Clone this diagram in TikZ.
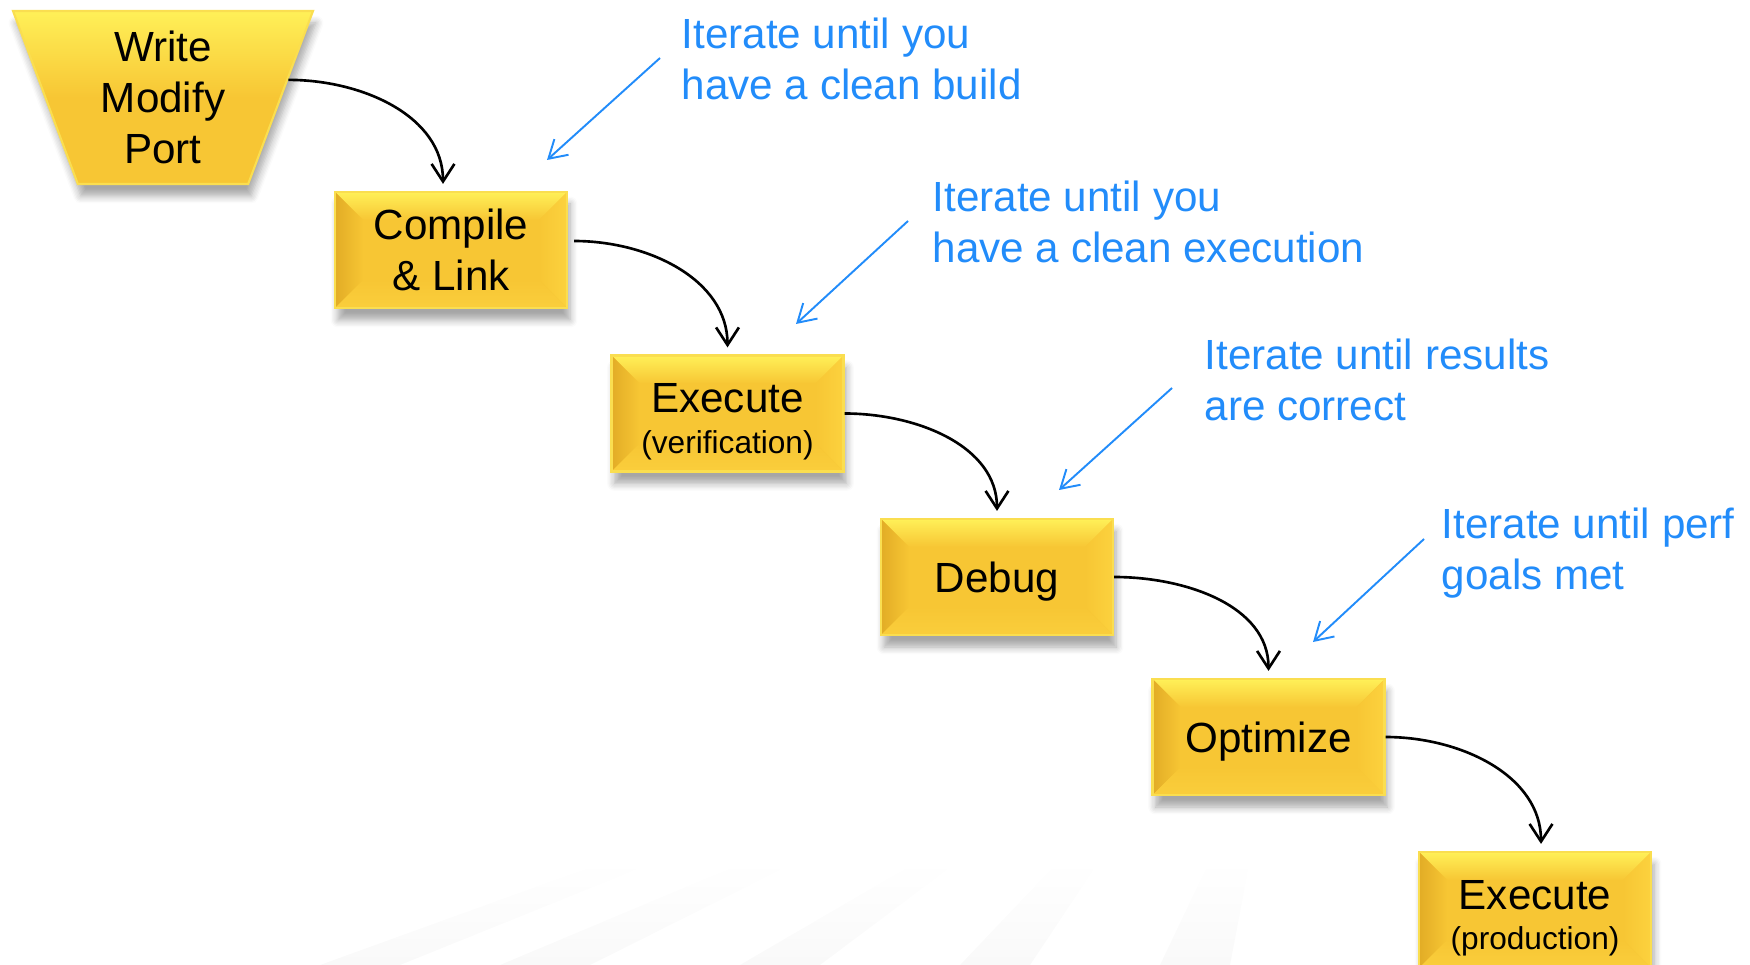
\documentclass[tikz,border=0pt]{standalone}
\usepackage{fontspec}
\setmainfont{Liberation Sans}
\usetikzlibrary{arrows.meta, shapes.geometric, shadows.blur, fadings}

\definecolor{goldmain}{RGB}{247,198,52}
\definecolor{goldtop}{RGB}{255,240,88}
\definecolor{goldleft}{RGB}{226,172,38}
\definecolor{goldright}{RGB}{252,210,62}
\definecolor{goldbot}{RGB}{250,206,60}
\definecolor{goldedge}{RGB}{250,222,80}
\definecolor{noteblue}{RGB}{34,140,250}

\newcommand\bevw{0.28cm}
\newcommand\subline[1]{{\fontsize{9}{11}\selectfont #1}}

\tikzset{
    bevel/.style={path picture={
        \path (path picture bounding box.north west) coordinate (pnw)
              (path picture bounding box.north east) coordinate (pne)
              (path picture bounding box.south west) coordinate (psw)
              (path picture bounding box.south east) coordinate (pse);
        \shade[top color=goldtop, bottom color=goldmain]
            (pnw) -- (pne) -- ([shift={(-\bevw,-\bevw)}]pne) -- ([shift={(\bevw,-\bevw)}]pnw) -- cycle;
        \shade[left color=goldleft, right color=goldmain]
            (pnw) -- ([shift={(\bevw,-\bevw)}]pnw) -- ([shift={(\bevw,\bevw)}]psw) -- (psw) -- cycle;
        \shade[left color=goldmain, right color=goldright]
            (pne) -- (pse) -- ([shift={(-\bevw,\bevw)}]pse) -- ([shift={(-\bevw,-\bevw)}]pne) -- cycle;
        \shade[top color=goldmain, bottom color=goldbot]
            (psw) -- (pse) -- ([shift={(-\bevw,\bevw)}]pse) -- ([shift={(\bevw,\bevw)}]psw) -- cycle;
    }},
    stepbox/.style={rectangle, minimum width=2.32cm, minimum height=1.16cm,
        inner sep=0pt, align=center, text depth=0pt, fill=goldmain, draw=goldedge, line width=0.6pt,
        blur shadow={shadow xshift=0.3mm, shadow yshift=-1.2mm, shadow opacity=35, shadow blur steps=6},
        bevel},
    funnel/.style={trapezium, shape border rotate=180, trapezium angle=64,
        trapezium stretches body=true, minimum width=3cm, minimum height=1.73cm,
        inner sep=0pt, align=center, top color=goldtop, bottom color=goldmain,
        middle color=goldmain, draw=goldedge, line width=0.6pt,
        blur shadow={shadow xshift=0.3mm, shadow yshift=-1.2mm, shadow opacity=35, shadow blur steps=6}},
    flow/.style={-{Straight Barb[length=5pt,width=6.5pt]}, line width=0.75pt, black, shorten >=2pt},
    hint/.style={-{Straight Barb[length=5pt,width=6pt]}, line width=0.55pt, noteblue},
    note/.style={anchor=north west, inner sep=0pt, align=left, text=noteblue}
}

\begin{document}
\begin{tikzpicture}[
    every node/.style={font=\fontsize{12}{14.5}\selectfont}
]
\useasboundingbox (0,0) rectangle (17.5,-9.65);

% --- faint background streaks ---
\fill[gray!5, path fading=north] (3.2,-9.65) -- (4.0,-9.65) -- (6.6,-8.6) -- (6.1,-8.6) -- cycle;
\fill[gray!5, path fading=north] (5.0,-9.65) -- (5.9,-9.65) -- (8.0,-8.6) -- (7.5,-8.6) -- cycle;
\fill[gray!5, path fading=north] (7.4,-9.65) -- (8.2,-9.65) -- (9.6,-8.6) -- (9.2,-8.6) -- cycle;
\fill[gray!5, path fading=north] (9.6,-9.65) -- (10.3,-9.65) -- (11.0,-8.6) -- (10.6,-8.6) -- cycle;
\fill[gray!5, path fading=north] (11.6,-9.65) -- (12.3,-9.65) -- (12.5,-8.6) -- (12.1,-8.6) -- cycle;

% --- Steps ---
\node[funnel] (write) at (1.63,-0.975) {Write\\Modify\\Port};
\node[stepbox] (compile) at (4.51,-2.50) {Compile\\\& Link};
\node[stepbox] (exec1) at (7.275,-4.135) {\rule{0pt}{11pt}Execute\\[-3pt]\subline{(verification)}};
\node[stepbox] (debug) at (9.97,-5.77) {Debug};
\node[stepbox] (optimize) at (12.685,-7.37) {Optimize};
\node[stepbox] (exec2) at (15.35,-9.10) {\rule{0pt}{11pt}Execute\\[-3pt]\subline{(production)}};

% --- Flow between steps ---
\draw[flow] (write.8) to[out=0, in=90] ([xshift=-0.08cm]compile.north);
\draw[flow] ([shift={(0.06,0.09)}]compile.east) to[out=0, in=90] (exec1.north);
\draw[flow] (exec1.east) to[out=0, in=90] (debug.north);
\draw[flow] (debug.east) to[out=0, in=90] (optimize.north);
\draw[flow] (optimize.east) to[out=0, in=90] ([xshift=0.06cm]exec2.north);

% --- Iteration notes ---
\node[note] (note1) at (6.81,-0.17) {Iterate until you\\have a clean build};
\node[note] (note2) at (9.32,-1.80) {Iterate until you\\have a clean execution};
\node[note] (note3) at (12.04,-3.38) {Iterate until results\\are correct};
\node[note] (note4) at (14.41,-5.07) {Iterate until perf\\goals met};

\coordinate (hint1a) at (6.60,-0.58);  \coordinate (hint1b) at (5.47,-1.60);
\coordinate (hint2a) at (9.08,-2.21);  \coordinate (hint2b) at (7.96,-3.24);
\coordinate (hint3a) at (11.72,-3.88); \coordinate (hint3b) at (10.59,-4.90);
\coordinate (hint4a) at (14.24,-5.39); \coordinate (hint4b) at (13.13,-6.42);

\draw[hint] (hint1a) -- (hint1b);
\draw[hint] (hint2a) -- (hint2b);
\draw[hint] (hint3a) -- (hint3b);
\draw[hint] (hint4a) -- (hint4b);

\end{tikzpicture}
\end{document}
